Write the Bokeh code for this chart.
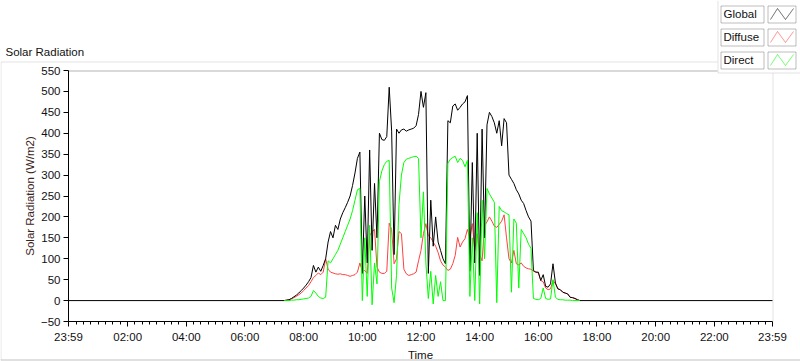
import numpy as np
from bokeh.plotting import figure
from bokeh.models import Range1d, FixedTicker, PolyAnnotation, Label
from bokeh.embed import file_html
from bokeh.resources import INLINE

# ---------------- data (5-minute samples, 07:20 .. 17:25) ----------------
start_minute = 7 * 60 + 20
step_minutes = 5

global_vals = [
    0, 1, 2, 5, 9, 13, 18, 24,                                   # 07:20-07:55
    30, 37, 45, 55, 84, 68, 80, 70, 84, 100, 140, 165,           # 08
    150, 180, 170, 195, 210, 222, 235, 250, 275, 305, 340, 355,  # 09
    65, 250, 90, 360, 120, 280, 150, 400, 385, 383, 392, 510,    # 10
    405, 110, 410, 400, 408, 410, 405, 408, 410, 412, 418, 445,  # 11
    500, 462, 497, 65, 240, 130, 200, 140, 120, 100, 88, 430,    # 12
    425, 465, 470, 455, 462, 470, 475, 490, 70, 330, 90, 400,    # 13
    60, 410, 150, 420, 450, 440, 425, 400, 430, 370, 435, 425,   # 14
    300, 290, 280, 265, 255, 240, 232, 215, 200, 190, 72, 68,    # 15
    68, 48, 62, 34, 32, 40, 88, 42, 28, 26, 20, 18,              # 16
    16, 8, 7, 5, 2, 0,                                           # 17:00-17:25
]
diffuse_vals = [
    0, 1, 2, 4, 7, 10, 14, 18,
    24, 30, 36, 45, 55, 60, 66, 62, 68, 100, 75, 68,
    66, 64, 63, 64, 62, 62, 60, 58, 60, 62, 68, 90,
    70, 72, 65, 155, 165, 170, 80, 68, 65, 65, 70, 185,
    170, 88, 100, 165, 160, 75, 64, 60, 62, 64, 68, 95,
    120, 160, 184, 155, 150, 140, 130, 115, 95, 85, 80, 72,
    75, 88, 108, 151, 128, 140, 148, 170, 150, 184, 120, 160,
    110, 95, 180, 188, 200, 190, 178, 175, 182, 190, 205, 150,
    100, 90, 120, 88, 85, 90, 82, 78, 76, 75, 70, 68,
    66, 48, 45, 30, 26, 28, 48, 40, 28, 26, 20, 18,
    16, 8, 7, 5, 2, 0,
]
direct_vals = [
    0, 0, 0, 1, 1, 2, 2, 3,
    4, 5, 6, 10, 24, 18, 10, 6, 5, 8, 95, 90,
    100, 110, 120, 135, 150, 165, 180, 195, 215, 240, 265, 268,
    0, 150, 10, 180, -10, 90, 40, 285, 310, 325, 333, 335,
    30, -5, 60, 230, 300, 330, 338, 340, 342, 344, 345, 340,
    150, 260, 90, 5, 70, -8, 60, 10, 45, 0, 0, 328,
    338, 342, 345, 330, 340, 335, 320, 335, 10, 150, 0, 210,
    -8, 240, 100, 268, 255, 245, 235, -5, 225, 215, 212, 208,
    205, 20, 195, 185, 30, 170, 160, 150, 135, 125, 5, 3,
    2, 5, 30, 5, 3, 4, 50, 8, 3, 2, 2, 1,
    1, 1, 0, 0, 0, 0,
]

day_start = -1          # 23:59 of the previous day, in minutes from 00:00
day_end = 1439          # 23:59
x_tick_minutes = [-1, 120, 240, 360, 480, 600, 720, 840, 960, 1080, 1200, 1320, 1439]
x_tick_labels = ["23:59", "02:00", "04:00", "06:00", "08:00", "10:00", "12:00",
                 "14:00", "16:00", "18:00", "20:00", "22:00", "23:59"]
y_min, y_max = -50, 550
y_ticks = [-50, 0, 50, 100, 150, 200, 250, 300, 350, 400, 450, 500, 550]
series_names = ["Global", "Diffuse", "Direct"]
series_colors = ["#000000", "#ff4040", "#00ff00"]

times = start_minute + step_minutes * np.arange(len(global_vals))
g_x = np.concatenate([[day_start], times, [day_end]])
g_y = np.concatenate([[0], global_vals, [0]])

FONT = "Liberation Sans"
W, H = 800, 361
# plot-area box on the canvas (pixels)
PL, PR, PT, PB = 68, 772, 70, 321
sx = (PR - PL) / (day_end - day_start)
sy = (PB - PT) / (y_max - y_min)
x_range = Range1d(day_start - PL / sx, day_end + (W - PR) / sx)
y_range = Range1d(y_min - (H - PB) / sy, y_max + PT / sy)

p = figure(width=W, height=H, output_backend="svg", toolbar_location=None,
           x_range=x_range, y_range=y_range, min_border=0)
p.title.visible = False
p.background_fill_color = "white"
p.border_fill_color = "white"
p.outline_line_color = None
p.xgrid.grid_line_color = None
p.ygrid.grid_line_color = None

# data lines (diffuse under global, direct on top)
p.line(times, diffuse_vals, color=series_colors[1], line_width=1)
p.line(g_x, g_y, color=series_colors[0], line_width=1)
p.line(times, direct_vals, color=series_colors[2], line_width=1)

minor = [m for m in range(15, 1440, 15) if m % 120 != 0]
p.xaxis.ticker = FixedTicker(ticks=x_tick_minutes, minor_ticks=minor)
p.xaxis.major_label_overrides = {t: l for t, l in zip(x_tick_minutes, x_tick_labels)}
p.yaxis.ticker = FixedTicker(ticks=y_ticks)
p.xaxis.fixed_location = y_min
p.yaxis.fixed_location = day_start
p.xaxis.bounds = (day_start, day_end)
p.yaxis.bounds = (y_min, y_max)

for ax in (p.xaxis[0], p.yaxis[0]):
    ax.axis_line_color = "black"
    ax.major_tick_line_color = "black"
    ax.minor_tick_line_color = "black"
    ax.major_label_text_font = FONT
    ax.major_label_text_font_size = "11.5px"
    ax.major_label_text_color = "#111111"
    ax.major_tick_in = 0
    ax.minor_tick_in = 0
    ax.axis_label_text_font = FONT
    ax.axis_label_text_font_size = "11.5px"
    ax.axis_label_text_font_style = "normal"
p.yaxis.major_tick_out = 5
p.yaxis.minor_tick_out = 0
p.xaxis.major_tick_out = 5
p.xaxis.minor_tick_out = 3
p.yaxis.major_label_standoff = 3
p.xaxis.major_label_standoff = 4
p.yaxis.axis_label = "Solar Radiation (W/m2)"
p.yaxis.axis_label_text_color = "#3a2418"
p.yaxis.axis_label_standoff = 2
p.xaxis.axis_label = "Time"
p.xaxis.axis_label_text_color = "#111111"
p.xaxis.axis_label_standoff = 3

# helpers: canvas pixels -> frame-relative screen units (frame == canvas)
def rx(px): return px
def ry(py): return H - py

def poly(xs, ys, line, fill=None, level="annotation"):
    p.add_layout(PolyAnnotation(xs=[rx(v) for v in xs], ys=[ry(v) for v in ys],
                                xs_units="screen", ys_units="screen",
                                fill_color=fill, fill_alpha=1.0 if fill else 0.0,
                                line_color=line, line_width=1, level=level))

TEXT_SHIFT = 5   # empirical baseline correction
def text(x, y, s, align="left", color="#111111"):
    p.add_layout(Label(x=rx(x), y=ry(y - TEXT_SHIFT), x_units="screen", y_units="screen", text=s,
                       text_font=FONT, text_font_size="11.5px", text_color=color,
                       text_align=align, text_baseline="alphabetic", level="overlay"))

# outer frame
poly([0.5, 717], [61.5, 61.5], "#a0a0a0")
poly([0.5, 0.5], [61.5, 359.5], "#a0a0a0")
poly([0, 800], [359.5, 359.5], "#303030")
# plot-area edges (top black, right gray)
poly([PL, 717], [PT + 0.5, PT + 0.5], "#000000")
poly([PR + 0.5, PR + 0.5], [PT, PB], "#a0a0a0")

text(5, 56, "Solar Radiation")

# legend panel
poly([717.5, 800, 800, 717.5], [0, 0, 72.5, 72.5], None, fill="white", level="overlay")
poly([717.5, 717.5], [0, 72.5], "#a0a0a0", level="overlay")
poly([717.5, 800], [72.5, 72.5], "#a0a0a0", level="overlay")
row_tops = [5, 28, 51]
for name, col, top in zip(series_names, series_colors, row_tops):
    poly([720.5, 763.5, 763.5, 720.5], [top + 0.5, top + 0.5, top + 17.5, top + 17.5],
         "#202020", fill="white", level="overlay")
    poly([767.5, 795.5, 795.5, 767.5], [top + 0.5, top + 0.5, top + 17.5, top + 17.5],
         "#202020", fill="white", level="overlay")
    text(723, top + 13.5, name)
    zx = [770, 777, 785, 793, 785, 777]
    zy = [top + 14, top + 3, top + 14, top + 3, top + 14, top + 3]
    poly(zx, zy, col, level="overlay")

open("out.html", "w").write(file_html(p, INLINE))
